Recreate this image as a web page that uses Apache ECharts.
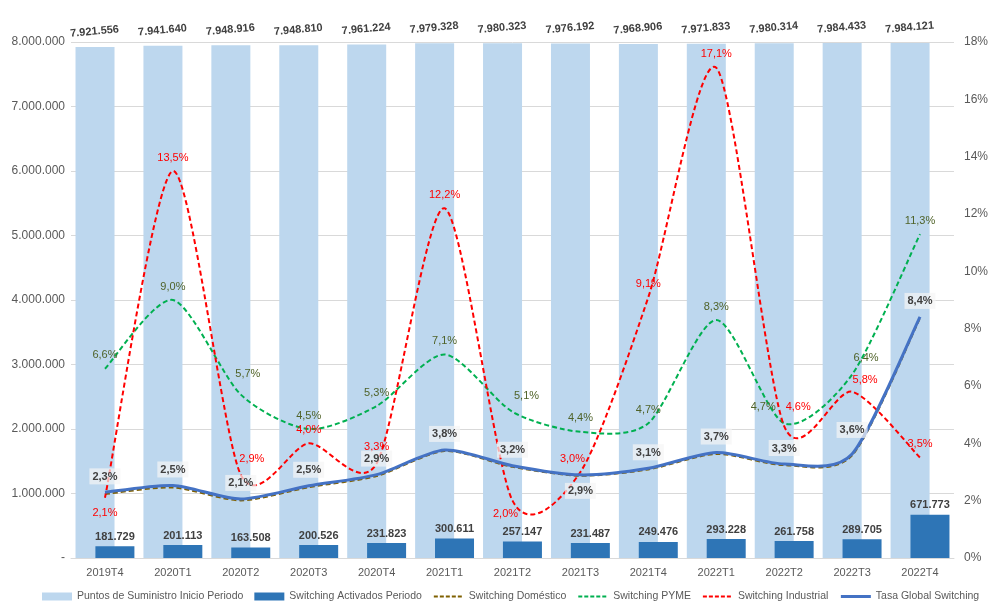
<!DOCTYPE html>
<html><head><meta charset="utf-8">
<script src="https://cdn.jsdelivr.net/npm/echarts@6/dist/echarts.min.js"></script>
<style>html,body{margin:0;padding:0;background:#fff}#c{width:991px;height:605px}</style>
</head><body><div id="c"></div>
<script>
const categories = ['2019T4','2020T1','2020T2','2020T3','2020T4','2021T1','2021T2','2021T3','2021T4','2022T1','2022T2','2022T3','2022T4'];
const puntosSuministro = [7921556,7941640,7948916,7948810,7961224,7979328,7980323,7976192,7968906,7971833,7980314,7984433,7984121];
const switchingActivados = [181729,201113,163508,200526,231823,300611,257147,231487,249476,293228,261758,289705,671773];
const switchingDomestico = [2.23,2.46,2.01,2.47,2.86,3.73,3.18,2.87,3.09,3.63,3.24,3.58,8.37];
const switchingPyme = [6.6,9.0,5.7,4.5,5.3,7.1,5.1,4.4,4.7,8.3,4.7,6.4,11.3];
const switchingIndustrial = [2.1,13.5,2.9,4.0,3.3,12.2,2.0,3.0,9.1,17.1,4.6,5.8,3.5];
const tasaGlobal = [2.29,2.53,2.06,2.52,2.91,3.77,3.22,2.90,3.13,3.68,3.28,3.63,8.41];
const leftTicks = ['-','1.000.000','2.000.000','3.000.000','4.000.000','5.000.000','6.000.000','7.000.000','8.000.000'];

const FONT = 'Liberation Sans';
const fmtNum = v => String(Math.round(v)).replace(/\B(?=(\d{3})+(?!\d))/g, '.');
const fmtPct = v => v.toFixed(1).replace('.', ',') + '%';

// label placement tweaks (index -> [position, dx, dy])
const indLbl = {0:['bottom',0,2],2:['top',11,-2],4:['top',0,-3],6:['bottom',-7,0],7:['top',-8,0],10:['top',14,-6],11:['top',13,2]};
const pymeLbl = {2:['top',7,-7],6:['top',14,-2],10:['top',-21,-3],11:['top',14,-3]};
const globLbl = {7:['bottom',0,0],11:['top',0,-8]};

function withLabels(vals, map) {
  return vals.map((v, i) => {
    const m = map[i];
    if (!m) return v;
    return {value: v, label: {position: m[0], offset: [m[1], m[2]]}};
  });
}

// Excel-like smoothed curve drawn via axis coordinates
const TENSION = 0.13;
function curveSeries(id, vals, stroke, width, dash, z) {
  return {
    id: id, name: id, type: 'custom', yAxisIndex: 1, z: z, silent: true,
    data: vals.map((v, i) => [i, v]),
    renderItem: (params, api) => {
      if (params.dataIndex !== 0) return null;
      const p = vals.map((v, i) => api.coord([i, v]));
      let d = 'M' + p[0][0] + ',' + p[0][1];
      for (let i = 0; i < p.length - 1; i++) {
        const p0 = p[i - 1] || p[i], p1 = p[i], p2 = p[i + 1], p3 = p[i + 2] || p[i + 1];
        const c1x = p1[0] + (p2[0] - p0[0]) * TENSION, c1y = p1[1] + (p2[1] - p0[1]) * TENSION;
        const c2x = p2[0] - (p3[0] - p1[0]) * TENSION, c2y = p2[1] - (p3[1] - p1[1]) * TENSION;
        d += ' C' + c1x + ',' + c1y + ' ' + c2x + ',' + c2y + ' ' + p2[0] + ',' + p2[1];
      }
      return {type: 'path', shape: {pathData: d},
        style: {fill: 'none', stroke: stroke, lineWidth: width, lineDash: dash, lineCap: 'butt'}};
    }
  };
}

function labelLine(name, vals, map, color, extraLabel, z) {
  return {
    name: name, type: 'line', yAxisIndex: 1, data: withLabels(vals, map),
    symbol: 'circle', symbolSize: 2, showSymbol: true, z: z, silent: true,
    lineStyle: {opacity: 0, width: 0}, itemStyle: {color: 'rgba(0,0,0,0)'},
    label: Object.assign({show: true, position: 'top', distance: 7, fontSize: 11, color: color, fontFamily: FONT,
      formatter: p => fmtPct(p.value)}, extraLabel || {})
  };
}

const chart = echarts.init(document.getElementById('c'));
chart.setOption({
  animation: false,
  textStyle: {fontFamily: FONT},
  grid: {left: 71, right: 33, top: 42, bottom: 47, containLabel: false},
  legend: {
    bottom: -2, left: 37, itemGap: 11, itemWidth: 30, itemHeight: 8,
    textStyle: {fontFamily: FONT, fontSize: 10.5, color: '#595959'},
    data: [
      {name: 'Puntos de Suministro Inicio Periodo', icon: 'rect'},
      {name: 'Switching Activados Periodo', icon: 'rect'},
      {name: 'Switching Doméstico', lineStyle: {color: '#7F6000', width: 2, type: [4, 2], opacity: 1}},
      {name: 'Switching PYME', lineStyle: {color: '#00B050', width: 2, type: [4, 2], opacity: 1}},
      {name: 'Switching Industrial', lineStyle: {color: '#FF0000', width: 2, type: [4, 2], opacity: 1}},
      {name: 'Tasa Global Switching', lineStyle: {color: '#4472C4', width: 3, type: 'solid', opacity: 1}}
    ]
  },
  xAxis: {
    type: 'category', data: categories,
    axisLine: {lineStyle: {color: '#D9D9D9'}}, axisTick: {show: false},
    axisLabel: {color: '#595959', fontSize: 11, margin: 9, fontFamily: FONT}
  },
  yAxis: [
    {type: 'value', min: 0, max: 8000000, interval: 1000000,
     axisLine: {show: false}, axisTick: {show: false},
     splitLine: {lineStyle: {color: '#D9D9D9', width: 1}},
     axisLabel: {color: '#595959', fontSize: 12, margin: 6, fontFamily: FONT,
       formatter: v => leftTicks[Math.round(v / 1000000)]}},
    {type: 'value', min: 0, max: 18, interval: 2,
     axisLine: {show: false}, axisTick: {show: false}, splitLine: {show: false},
     axisLabel: {color: '#595959', fontSize: 12, margin: 10, fontFamily: FONT, formatter: '{value}%'}}
  ],
  series: [
    {name: 'Puntos de Suministro Inicio Periodo', type: 'bar', data: puntosSuministro,
     barWidth: 39, barGap: '-49%', itemStyle: {color: '#BDD7EE'}, z: 1,
     label: {show: true, position: 'top', distance: 10, rotate: 5, fontWeight: 'bold', fontSize: 11,
       color: '#404040', fontFamily: FONT, formatter: p => fmtNum(p.value)}},
    {name: 'Switching Activados Periodo', type: 'bar', data: switchingActivados,
     barWidth: 39, itemStyle: {color: '#2E75B6'}, z: 2,
     label: {show: true, position: 'top', distance: 4, fontWeight: 'bold', fontSize: 11,
       color: '#404040', fontFamily: FONT, formatter: p => fmtNum(p.value)}},
    curveSeries('c_dom', switchingDomestico, '#7F6000', 2, [5, 3], 3),
    curveSeries('c_pyme', switchingPyme, '#00B050', 2, [5, 3], 4),
    curveSeries('c_ind', switchingIndustrial, '#FF0000', 2, [5, 3], 5),
    curveSeries('c_glob', tasaGlobal, '#4472C4', 3, null, 6),
    {name: 'Switching Doméstico', type: 'line', yAxisIndex: 1, data: switchingDomestico,
     symbol: 'none', showSymbol: false, z: 3, silent: true,
     lineStyle: {opacity: 0, width: 0}, itemStyle: {color: 'rgba(0,0,0,0)'}},
    labelLine('Switching PYME', switchingPyme, pymeLbl, '#4F6228', null, 7),
    labelLine('Switching Industrial', switchingIndustrial, indLbl, '#FF0000', null, 8),
    labelLine('Tasa Global Switching', tasaGlobal, globLbl, '#404040',
      {fontWeight: 'bold', backgroundColor: 'rgba(245,245,245,0.7)', padding: [3, 3, 2, 3]}, 9)
  ]
});
</script></body></html>
